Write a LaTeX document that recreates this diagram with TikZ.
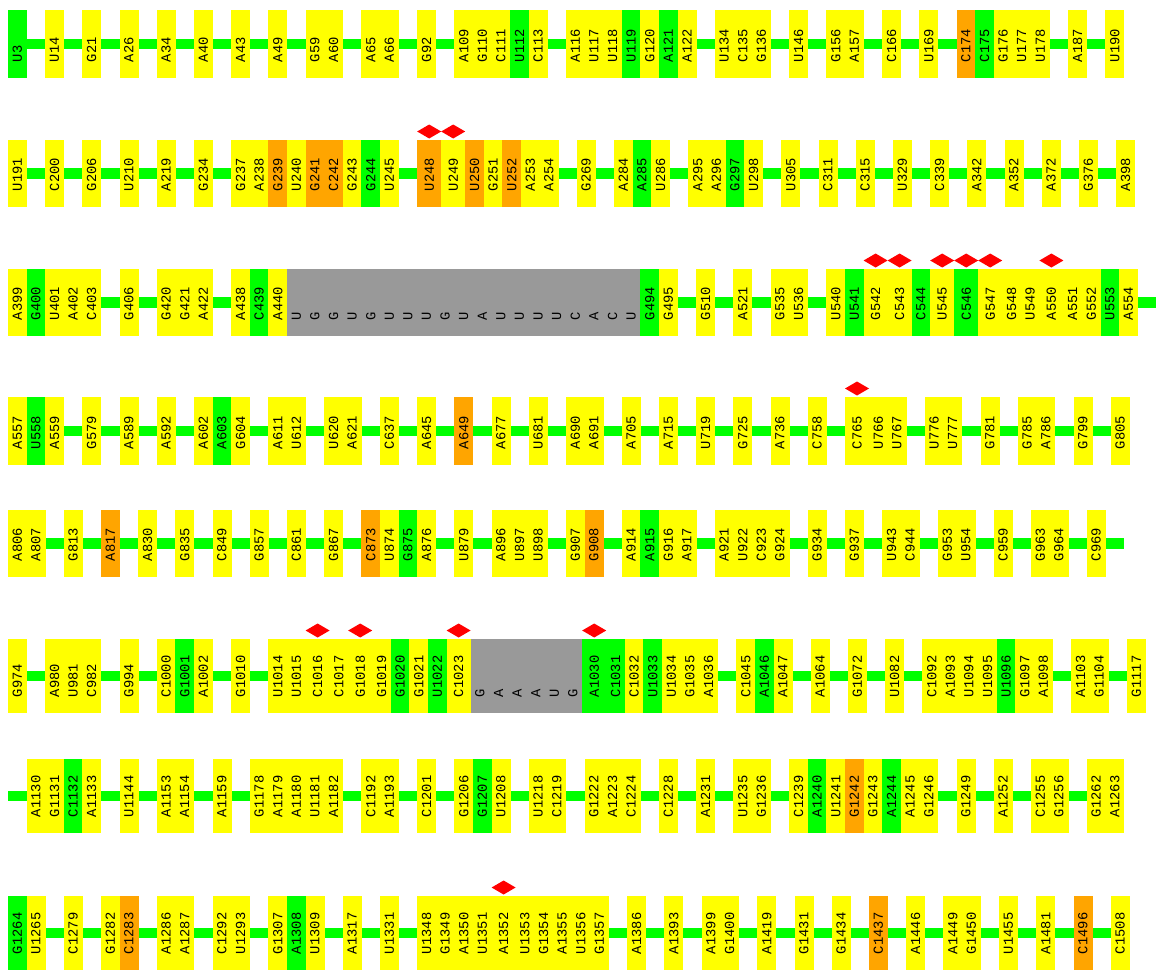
\documentclass[tikz,border=0pt]{standalone}
\usepackage{fontspec}
\newfontfamily\labfont{Liberation Mono}
\usetikzlibrary{shapes.geometric}
\pgfdeclarelayer{bbl}
\pgfsetlayers{bbl,main}
\definecolor{ry}{HTML}{FFFF00}
\definecolor{rg}{HTML}{00FF00}
\definecolor{ro}{HTML}{FFA500}
\definecolor{rx}{HTML}{999999}
\definecolor{rd}{HTML}{FF0000}
\newcommand\mkrow[4]{%
  \xdef\curx{8}%
  \foreach \lab/\col/\dd [count=\i] in {#4} {%
    \if n\col
      \pgfmathsetmacro\nx{\curx+18.6}%
    \else
      \pgfmathsetmacro\w{\dd==1 ? 24 : 18.6}%
      \pgfmathsetmacro\cx{\curx+\w/2}%
      \node[cell, c\col, minimum width=\w+0.4, minimum height=#3-#2] (#1c\i) at (\curx,#2) {};
      \node[lab] (#1t\i) at (\cx,#3-16) {\lab};
      \ifnum\dd=1 \node[redgem] (#1d\i) at (\cx,#2-8.5) {};\fi
      \pgfmathsetmacro\nx{\curx+\w}%
    \fi
    \xdef\curx{\nx}%
  }%
  \coordinate (#1s) at (8,{(#2+#3)/2});
  \coordinate (#1e) at (\curx,{(#2+#3)/2});
  \begin{pgfonlayer}{bbl}\draw[backbone] (#1s) -- (#1e);\end{pgfonlayer}
}
\begin{document}
\begin{tikzpicture}[x=1pt,y=-1pt,
  cell/.style={rectangle, draw=none, inner sep=0, outer sep=0, anchor=north west},
  cy/.style={fill=ry}, cg/.style={fill=rg}, co/.style={fill=ro}, cx/.style={fill=rx},
  lab/.style={font={\labfont\fontsize{13.8}{14}\selectfont}, text=black, rotate=90, anchor=west, inner sep=0, outer sep=0},
  redgem/.style={diamond, fill=rd, draw=none, inner sep=0, outer sep=0, minimum width=24, minimum height=14},
  backbone/.style={draw=rg, line width=10.5}]
\useasboundingbox (0,0) rectangle (1156,972);
\mkrow{r1}{10}{78}{U3/g/0,-/n/0,U14/y/0,-/n/0,G21/y/0,-/n/0,A26/y/0,-/n/0,A34/y/0,-/n/0,A40/y/0,-/n/0,A43/y/0,-/n/0,A49/y/0,-/n/0,G59/y/0,A60/y/0,-/n/0,A65/y/0,A66/y/0,-/n/0,G92/y/0,-/n/0,A109/y/0,G110/y/0,C111/y/0,U112/g/0,C113/y/0,-/n/0,A116/y/0,U117/y/0,U118/y/0,U119/g/0,G120/y/0,A121/g/0,A122/y/0,-/n/0,U134/y/0,C135/y/0,G136/y/0,-/n/0,U146/y/0,-/n/0,G156/y/0,A157/y/0,-/n/0,C166/y/0,-/n/0,U169/y/0,-/n/0,C174/o/0,C175/g/0,G176/y/0,U177/y/0,U178/y/0,-/n/0,A187/y/0,-/n/0,U190/y/0}
\mkrow{r2}{140}{207}{U191/y/0,-/n/0,C200/y/0,-/n/0,G206/y/0,-/n/0,U210/y/0,-/n/0,A219/y/0,-/n/0,G234/y/0,-/n/0,G237/y/0,A238/y/0,G239/o/0,U240/y/0,G241/o/0,C242/o/0,G243/y/0,G244/g/0,U245/y/0,-/n/0,U248/o/1,U249/y/1,U250/o/0,G251/y/0,U252/o/0,A253/y/0,A254/y/0,-/n/0,G269/y/0,-/n/0,A284/y/0,A285/g/0,U286/y/0,-/n/0,A295/y/0,A296/y/0,G297/g/0,U298/y/0,-/n/0,U305/y/0,-/n/0,C311/y/0,-/n/0,C315/y/0,-/n/0,U329/y/0,-/n/0,C339/y/0,-/n/0,A342/y/0,-/n/0,A352/y/0,-/n/0,A372/y/0,-/n/0,G376/y/0,-/n/0,A398/y/0}
\mkrow{r3}{269}{336}{A399/y/0,G400/g/0,U401/y/0,A402/y/0,C403/y/0,-/n/0,G406/y/0,-/n/0,G420/y/0,G421/y/0,A422/y/0,-/n/0,A438/y/0,C439/g/0,A440/y/0,U/x/0,G/x/0,G/x/0,U/x/0,G/x/0,U/x/0,U/x/0,U/x/0,G/x/0,U/x/0,A/x/0,U/x/0,U/x/0,U/x/0,U/x/0,C/x/0,A/x/0,C/x/0,U/x/0,G494/g/0,G495/y/0,-/n/0,G510/y/0,-/n/0,A521/y/0,-/n/0,G535/y/0,U536/y/0,-/n/0,U540/y/0,U541/g/0,G542/y/1,C543/y/1,C544/g/0,U545/y/1,C546/g/1,G547/y/1,G548/y/0,U549/y/0,A550/y/1,A551/y/0,G552/y/0,U553/g/0,A554/y/0,-/n/0}
\mkrow{r4}{397}{465}{A557/y/0,U558/g/0,A559/y/0,-/n/0,G579/y/0,-/n/0,A589/y/0,-/n/0,A592/y/0,-/n/0,A602/y/0,A603/g/0,G604/y/0,-/n/0,A611/y/0,U612/y/0,-/n/0,U620/y/0,A621/y/0,-/n/0,C637/y/0,-/n/0,A645/y/0,-/n/0,A649/o/0,-/n/0,A677/y/0,-/n/0,U681/y/0,-/n/0,A690/y/0,A691/y/0,-/n/0,A705/y/0,-/n/0,A715/y/0,-/n/0,U719/y/0,-/n/0,G725/y/0,-/n/0,A736/y/0,-/n/0,C758/y/0,-/n/0,C765/y/1,U766/y/0,U767/y/0,-/n/0,U776/y/0,U777/y/0,-/n/0,G781/y/0,-/n/0,G785/y/0,A786/y/0,-/n/0,G799/y/0,-/n/0,G805/y/0}
\mkrow{r5}{510}{577}{A806/y/0,A807/y/0,-/n/0,G813/y/0,-/n/0,A817/o/0,-/n/0,A830/y/0,-/n/0,G835/y/0,-/n/0,C849/y/0,-/n/0,G857/y/0,-/n/0,C861/y/0,-/n/0,G867/y/0,-/n/0,C873/o/0,U874/y/0,G875/g/0,A876/y/0,-/n/0,U879/y/0,-/n/0,A896/y/0,U897/y/0,U898/y/0,-/n/0,G907/y/0,G908/o/0,-/n/0,A914/y/0,A915/g/0,G916/y/0,A917/y/0,-/n/0,A921/y/0,U922/y/0,C923/y/0,G924/y/0,-/n/0,G934/y/0,-/n/0,G937/y/0,-/n/0,U943/y/0,C944/y/0,-/n/0,G953/y/0,U954/y/0,-/n/0,C959/y/0,-/n/0,G963/y/0,G964/y/0,-/n/0,C969/y/0,-/n/0}
\mkrow{r6}{639}{713}{G974/y/0,-/n/0,A980/y/0,U981/y/0,C982/y/0,-/n/0,G994/y/0,-/n/0,C1000/y/0,G1001/g/0,A1002/y/0,-/n/0,G1010/y/0,-/n/0,U1014/y/0,U1015/y/0,C1016/y/1,C1017/y/0,G1018/y/1,G1019/y/0,G1020/g/0,G1021/y/0,U1022/g/0,C1023/y/1,G/x/0,A/x/0,A/x/0,A/x/0,U/x/0,G/x/0,A1030/g/1,C1031/g/0,C1032/y/0,U1033/g/0,U1034/y/0,G1035/y/0,A1036/y/0,-/n/0,C1045/y/0,A1046/g/0,A1047/y/0,-/n/0,A1064/y/0,-/n/0,G1072/y/0,-/n/0,U1082/y/0,-/n/0,C1092/y/0,A1093/y/0,U1094/y/0,U1095/y/0,U1096/g/0,G1097/y/0,A1098/y/0,-/n/0,A1103/y/0,G1104/y/0,-/n/0,G1117/y/0}
\mkrow{r7}{759}{833}{-/n/0,A1130/y/0,G1131/y/0,C1132/g/0,A1133/y/0,-/n/0,U1144/y/0,-/n/0,A1153/y/0,A1154/y/0,-/n/0,A1159/y/0,-/n/0,G1178/y/0,A1179/y/0,A1180/y/0,U1181/y/0,A1182/y/0,-/n/0,C1192/y/0,A1193/y/0,-/n/0,C1201/y/0,-/n/0,G1206/y/0,G1207/g/0,U1208/y/0,-/n/0,U1218/y/0,C1219/y/0,-/n/0,G1222/y/0,A1223/y/0,C1224/y/0,-/n/0,C1228/y/0,-/n/0,A1231/y/0,-/n/0,U1235/y/0,G1236/y/0,-/n/0,C1239/y/0,A1240/g/0,U1241/y/0,G1242/o/0,G1243/y/0,A1244/g/0,A1245/y/0,G1246/y/0,-/n/0,G1249/y/0,-/n/0,A1252/y/0,-/n/0,C1255/y/0,G1256/y/0,-/n/0,G1262/y/0,A1263/y/0}
\mkrow{r8}{896}{970}{G1264/g/0,U1265/y/0,-/n/0,C1279/y/0,-/n/0,G1282/y/0,C1283/o/0,-/n/0,A1286/y/0,A1287/y/0,-/n/0,C1292/y/0,U1293/y/0,-/n/0,G1307/y/0,A1308/g/0,U1309/y/0,-/n/0,A1317/y/0,-/n/0,U1331/y/0,-/n/0,U1348/y/0,G1349/y/0,A1350/y/0,U1351/y/0,A1352/y/1,U1353/y/0,G1354/y/0,A1355/y/0,U1356/y/0,G1357/y/0,-/n/0,A1386/y/0,-/n/0,A1393/y/0,-/n/0,A1399/y/0,G1400/y/0,-/n/0,A1419/y/0,-/n/0,G1431/y/0,-/n/0,G1434/y/0,-/n/0,C1437/o/0,-/n/0,A1446/y/0,-/n/0,A1449/y/0,G1450/y/0,-/n/0,U1455/y/0,-/n/0,A1481/y/0,-/n/0,C1496/o/0,-/n/0,C1508/y/0}
\end{tikzpicture}
\end{document}
